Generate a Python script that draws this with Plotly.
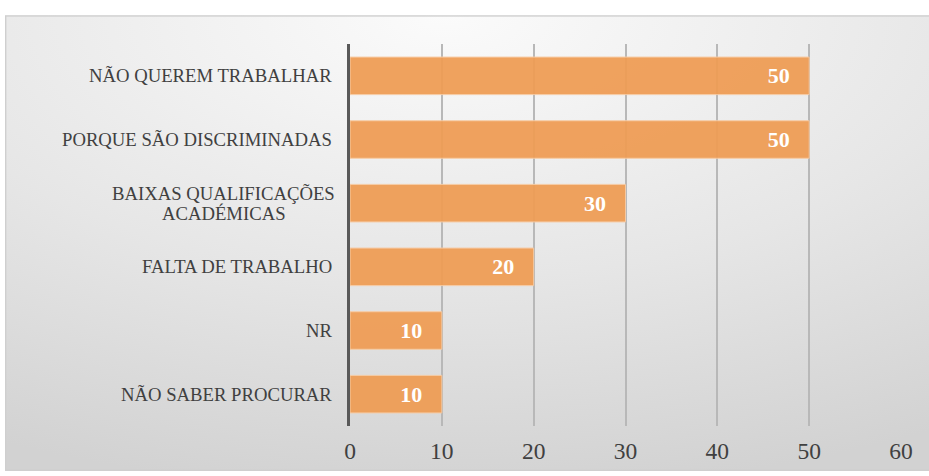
import plotly.graph_objects as go
import urllib.parse

categories = [
    "NÃO QUEREM TRABALHAR",
    "PORQUE SÃO DISCRIMINADAS",
    "BAIXAS QUALIFICAÇÕES<br>ACADÉMICAS",
    "FALTA DE TRABALHO",
    "NR",
    "NÃO SABER PROCURAR",
]
values = [50, 50, 30, 20, 10, 10]
x_ticks = [0, 10, 20, 30, 40, 50, 60]

W, H = 929, 476
L, R, T, B = 350, 28, 44, 33
SERIF = "Liberation Serif, Times New Roman, serif"
LABEL_SIZE = 18.7
LINE_H = 20

svg = (
    '<svg xmlns="http://www.w3.org/2000/svg" width="1000" height="500" viewBox="0 0 1000 500" preserveAspectRatio="none">'
    '<defs><radialGradient id="g" cx="0.47" cy="0.0" r="1.05" fx="0.47" fy="0.0" gradientUnits="objectBoundingBox">'
    '<stop offset="0" stop-color="#fbfbfb"/><stop offset="0.55" stop-color="#e6e6e6"/>'
    '<stop offset="1" stop-color="#d2d2d2"/></radialGradient></defs>'
    '<rect x="0" y="0" width="1000" height="500" fill="url(#g)" stroke="#cfcfcf" stroke-width="3"/>'
    '</svg>'
)
src = "data:image/svg+xml;charset=utf-8," + urllib.parse.quote(svg)

pw = W - L - R
ph = H - T - B
def px2paper_x(px):
    return (px - L) / pw
def py2paper_y(py):
    return (H - B - py) / ph

fig = go.Figure()
fig.add_trace(go.Bar(
    y=categories,
    x=values,
    orientation="h",
    marker=dict(color="#EF9D55", line=dict(color="#F8CBA2", width=1), opacity=0.94),
    text=values,
    texttemplate="<b>%{x}</b>\u00a0\u00a0\u00a0",
    textposition="inside",
    insidetextanchor="end",
    textfont=dict(family=SERIF, size=22, color="white"),
    cliponaxis=False,
    hoverinfo="skip",
))

label_font = dict(family=SERIF, size=LABEL_SIZE, color="#404040")
for c in categories:
    lines = c.split("<br>")
    if len(lines) == 1:
        fig.add_annotation(
            x=0, xref="paper", y=c, yref="y",
            text=c, showarrow=False, xanchor="right",
            xshift=-16, font=label_font,
        )
    else:
        # centre each line under the widest (first) line
        w1 = 13.0 * LABEL_SIZE * 0.905
        n = len(lines)
        for i, ln in enumerate(lines):
            fig.add_annotation(
                x=0, xref="paper", y=c, yref="y",
                text=ln, showarrow=False, xanchor="center",
                xshift=-16 - w1 / 2,
                yshift=((n - 1) / 2 - i) * LINE_H,
                font=label_font,
            )

fig.add_layout_image(dict(
    source=src, xref="paper", yref="paper",
    x=px2paper_x(5), y=py2paper_y(14),
    sizex=px2paper_x(940) - px2paper_x(5),
    sizey=py2paper_y(14) - py2paper_y(490),
    xanchor="left", yanchor="top", sizing="stretch", layer="below",
))

fig.update_layout(
    width=W, height=H,
    margin=dict(l=L, r=R, t=T, b=B),
    paper_bgcolor="white",
    plot_bgcolor="rgba(0,0,0,0)",
    bargap=0.41,
    showlegend=False,
    font=dict(family=SERIF),
    xaxis=dict(
        range=[0, 60], tickvals=x_ticks, ticktext=[str(v) for v in x_ticks],
        showgrid=True, gridcolor="#b8b8b8", gridwidth=1.5,
        zeroline=False, showline=False, ticks="",
        ticklabelstandoff=8,
        tickfont=dict(family=SERIF, size=23.5, color="#404040"),
        fixedrange=True,
    ),
    yaxis=dict(
        autorange="reversed", showticklabels=False, ticks="",
        showgrid=False, zeroline=False,
        showline=True, linecolor="#595959", linewidth=3,
        fixedrange=True,
    ),
)

fig.write_html(
    "out.html",
    config={"displayModeBar": False},
    post_script="document.body.style.margin='0';document.body.style.overflow='hidden';",
)
